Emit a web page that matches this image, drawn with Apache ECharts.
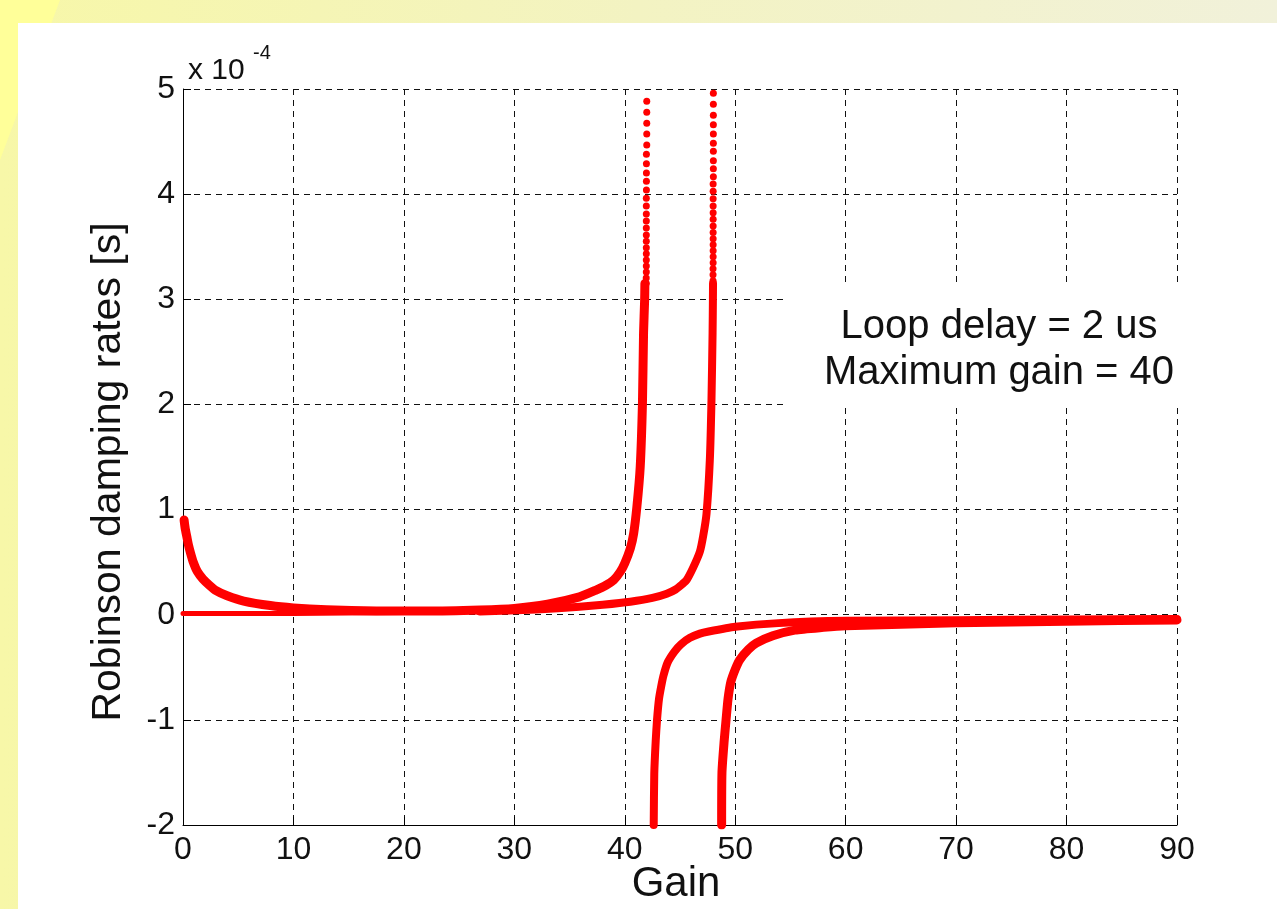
<!DOCTYPE html>
<html>
<head>
<meta charset="utf-8">
<script src="https://cdn.jsdelivr.net/npm/echarts@6/dist/echarts.min.js"></script>
<style>
  html, body { margin: 0; padding: 0; }
  #chart { width: 1277px; height: 909px; }
</style>
</head>
<body>
<div id="chart"></div>
<script>
// values, gain vs damping rate in units of 1e-4 s
const gainTicks = [0, 10, 20, 30, 40, 50, 60, 70, 80, 90]
const rateTicks = [-2, -1, 0, 1, 2, 3, 4, 5]

// branch that starts at 0.9 and blows up near gain 42
const curveA = [
  [0.1, 0.9], [0.2, 0.82], [0.35, 0.74], [0.5, 0.66], [0.7, 0.58], [0.93, 0.5],
  [1.3, 0.41], [1.8, 0.34], [2.4, 0.28], [3.0, 0.23], [4.0, 0.18], [5.5, 0.13],
  [7.9, 0.087], [10, 0.065], [13, 0.048], [17.5, 0.036], [22, 0.035], [26.9, 0.045],
  [30, 0.06], [33, 0.1], [35.9, 0.17], [37.4, 0.235], [38.3, 0.28], [39.0, 0.33],
  [39.6, 0.41], [40.0, 0.49], [40.5, 0.63], [40.8, 0.77], [41.1, 1.03], [41.4, 1.41],
  [41.6, 2.01], [41.7, 2.68], [41.8, 3.0], [41.82, 3.15]
]
const dotsA = [
  [41.99, 4.883], [41.99, 4.778], [41.99, 4.674], [41.99, 4.572], [41.99, 4.467],
  [41.96, 4.379], [41.96, 4.29], [41.96, 4.201], [41.96, 4.122], [41.96, 4.039],
  [41.95, 3.96], [41.95, 3.887], [41.95, 3.811], [41.95, 3.745], [41.95, 3.678],
  [41.95, 3.612], [41.95, 3.551], [41.95, 3.491], [41.95, 3.434], [41.95, 3.374],
  [41.95, 3.317], [41.95, 3.26], [41.94, 3.203], [41.94, 3.152]
]

// branch that starts flat at 0 and blows up near gain 48
const curveBlow = [
  [0, 0.012], [10, 0.012], [20, 0.02], [26.9, 0.03]
]
const curveB = [
  [26.9, 0.03], [32, 0.05], [35.9, 0.076], [38, 0.095], [40.5, 0.124], [42.5, 0.16],
  [43.8, 0.2], [44.6, 0.24], [45.2, 0.29], [45.6, 0.33], [46.2, 0.45], [46.8, 0.6],
  [47.1, 0.75], [47.4, 0.96], [47.7, 1.47], [47.85, 2.04], [47.95, 2.68], [47.98, 3.0],
  [47.99, 3.15]
]
const dotsB = [
  [48.02, 4.959], [48.02, 4.854], [48.02, 4.75], [48.02, 4.66], [48.02, 4.572],
  [48.02, 4.483], [48.02, 4.407], [48.02, 4.318], [48.02, 4.242], [48.02, 4.166],
  [48.0, 4.096], [48.0, 4.027], [48.0, 3.956], [48.0, 3.887], [48.0, 3.824],
  [48.0, 3.761], [48.0, 3.697], [48.0, 3.636], [48.0, 3.576], [48.0, 3.519],
  [48.0, 3.462], [48.0, 3.405], [48.0, 3.348], [47.99, 3.291], [47.99, 3.234],
  [47.99, 3.177]
]

// negative branches rising from -2
const curveC = [
  [42.62, -2.0], [42.67, -1.51], [42.8, -1.2], [42.92, -1.0], [43.1, -0.8], [43.3, -0.68],
  [43.5, -0.58], [43.9, -0.45], [44.5, -0.35], [45.1, -0.28], [45.9, -0.22], [46.8, -0.18],
  [47.6, -0.16], [50.0, -0.115], [53.9, -0.08], [60, -0.058], [70, -0.052], [80, -0.046],
  [90, -0.04]
]
const curveD = [
  [48.77, -2.0], [48.8, -1.5], [49.0, -1.2], [49.17, -1.0], [49.35, -0.8], [49.6, -0.64],
  [50.0, -0.52], [50.4, -0.43], [51.2, -0.33], [51.9, -0.27], [53.4, -0.2], [55.4, -0.146],
  [58, -0.12], [60, -0.105], [65, -0.09], [70, -0.077], [80, -0.062], [90, -0.05]
]

const FONT = 'Liberation Sans'
const RED = '#ff0000'

function lineSeries(data, width) {
  return {
    type: 'line',
    data: data,
    showSymbol: false,
    symbol: 'none',
    smooth: 0.2,
    lineStyle: { color: RED, width: width, cap: 'round', join: 'round' },
    z: 3
  }
}

function dotSeries(data) {
  return {
    type: 'scatter',
    data: data,
    symbol: 'circle',
    symbolSize: 7,
    itemStyle: { color: RED, opacity: 1 },
    z: 3
  }
}

const chart = echarts.init(document.getElementById('chart'), null, { renderer: 'canvas' })

const gridLine = { show: true, lineStyle: { color: '#111', type: [6, 5], width: 1 } }

chart.setOption({
  animation: false,
  backgroundColor: {
    type: 'linear', x: 0, y: 0, x2: 1, y2: 0,
    colorStops: [
      { offset: 0, color: '#f7f7a8' },
      { offset: 0.5, color: '#f3f3c2' },
      { offset: 1, color: '#f1f1da' }
    ]
  },
  graphic: [
    {
      type: 'polygon', z: -10, silent: true,
      shape: { points: [[0, 0], [60, 0], [0, 160]] },
      style: { fill: '#ffff99' }
    },
    {
      type: 'rect', z: -5, silent: true,
      shape: { x: 18, y: 23, width: 1277, height: 909 },
      style: { fill: '#ffffff' }
    },
    {
      type: 'rect', z: 50, silent: true,
      shape: { x: 788, y: 287, width: 400, height: 119 },
      style: { fill: '#ffffff' }
    },
    {
      type: 'text', z: 60, silent: true,
      style: {
        x: 999, y: 304, text: 'Loop delay = 2 us\nMaximum gain = 40',
        align: 'center', verticalAlign: 'top',
        font: '40px "Liberation Sans"', lineHeight: 46, fill: '#111'
      }
    },
    {
      type: 'text', z: 60, silent: true,
      style: {
        x: 188, y: 56, text: 'x 10', font: '30px "Liberation Sans"', fill: '#111'
      }
    },
    {
      type: 'text', z: 60, silent: true,
      style: {
        x: 253, y: 43, text: '-4', font: '20px "Liberation Sans"', fill: '#111'
      }
    }
  ],
  grid: { left: 183, right: 100, top: 89, bottom: 84, containLabel: false, outerBoundsMode: 'none' },
  xAxis: {
    type: 'value',
    min: gainTicks[0],
    max: gainTicks[gainTicks.length - 1],
    interval: 10,
    name: 'Gain',
    nameLocation: 'middle',
    nameGap: 38,
    nameMoveOverlap: false,
    nameTextStyle: { fontFamily: FONT, fontSize: 42, color: '#111', verticalAlign: 'top', padding: [0, 8, 0, 0] },
    axisLine: { show: true, onZero: false, lineStyle: { color: '#000', width: 1 } },
    axisTick: { show: true, inside: true, length: 8, lineStyle: { color: '#000' } },
    axisLabel: { fontFamily: FONT, fontSize: 32, color: '#111', margin: 9 },
    splitLine: gridLine
  },
  yAxis: {
    type: 'value',
    min: rateTicks[0],
    max: rateTicks[rateTicks.length - 1],
    interval: 1,
    name: 'Robinson damping rates [s]',
    nameLocation: 'middle',
    nameGap: 54,
    nameRotate: 90,
    nameMoveOverlap: false,
    nameTextStyle: { fontFamily: FONT, fontSize: 41, color: '#111', padding: [0, 30, 0, 0] },
    axisLine: { show: true, onZero: false, lineStyle: { color: '#000', width: 1 } },
    axisTick: { show: true, inside: true, length: 8, lineStyle: { color: '#000' } },
    axisLabel: { fontFamily: FONT, fontSize: 32, color: '#111', margin: 8 },
    splitLine: gridLine
  },
  series: [
    lineSeries(curveBlow, 5),
    lineSeries(curveB, 8),
    lineSeries(curveA, 9),
    lineSeries(curveC, 8),
    lineSeries(curveD, 9),
    dotSeries(dotsA),
    dotSeries(dotsB)
  ]
})
</script>
</body>
</html>
